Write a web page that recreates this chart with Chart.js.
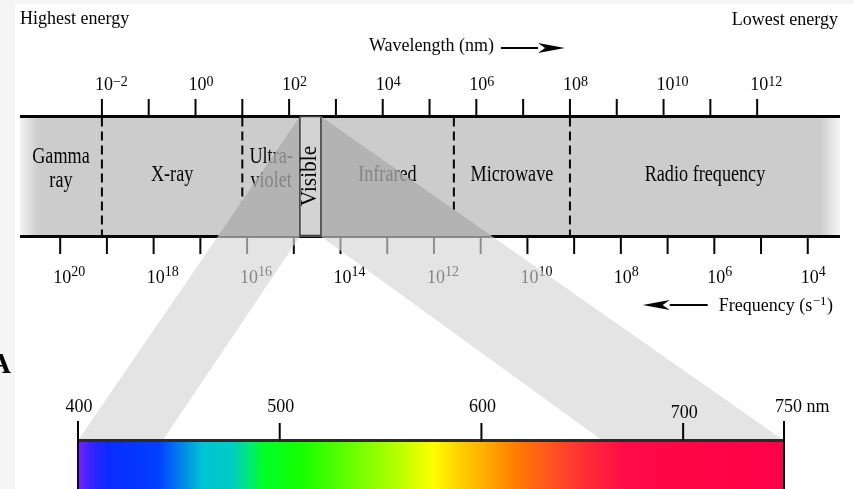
<!DOCTYPE html>
<html>
<head>
<meta charset="utf-8">
<title>Electromagnetic spectrum</title>
<script src="https://cdn.jsdelivr.net/npm/chart.js@4.4.1/dist/chart.umd.min.js"></script>
<style>
html, body { margin: 0; padding: 0; background: #ffffff; overflow: hidden; }
#holder { position: relative; width: 854px; height: 489px; }
</style>
</head>
<body>
<div id="holder"><canvas id="em-chart"></canvas></div>
<script>
// top scale: wavelength, log10 of nm
const wavelength_ticks = [-2, -1, 0, 1, 2, 3, 4, 5, 6, 7, 8, 9, 10, 11, 12];
const wavelength_labels = [-2, 0, 2, 4, 6, 8, 10, 12];
// bottom scale: frequency, log10 of s^-1 (runs right to left)
const frequency_ticks = [20, 19, 18, 17, 16, 15, 14, 13, 12, 11, 10, 9, 8, 7, 6, 5, 4];
const frequency_labels = [20, 18, 16, 14, 12, 10, 8, 6, 4];
// borders between the regions, on the wavelength scale
const region_edges = [-2, 1, 2.23, 2.68, 5.52, 8];
const region_names = [["Gamma", "ray"], ["X-ray"], ["Ultra-", "violet"], ["Visible"], ["Infrared"], ["Microwave"], ["Radio frequency"]];
// the visible band blown up, nm
const visible_ticks = [400, 500, 600, 700, 750];
const visible_labels = ["400", "500", "600", "700", "750 nm"];
const beam_inner = [442, 660];

// colour of the light at a given wavelength (nm)
const spectrum_colors = [
    [400, "#7a22ff"], [406, "#3a22ff"], [415, "#0a2cff"], [440, "#0040ff"],
    [452, "#0088e8"], [462, "#00c4d4"], [476, "#00ccc4"], [485, "#00e878"],
    [492, "#00ff28"], [510, "#14ff00"], [530, "#55ff00"], [555, "#aaff00"],
    [576, "#ffff00"], [588, "#ffd400"], [604, "#ffa600"], [617, "#ff7d00"],
    [632, "#ff5a1a"], [652, "#ff2c36"], [672, "#ff0a46"], [750, "#ff0048"]
];

// scale ranges
const w_min = -3.75, w_max = 13.77;
const f_min = 3.31, f_max = 20.86;
const s_min = 371.25, s_max = 777.76;

// vertical layout (rows of the y scale)
const rows = {
    top_tick: 99, top_axis: 116.5, band_bottom: 236.5, low_tick: 254,
    spec_mark: 423, spec_edge: 421, spec_top: 440.5, spec_bottom: 489
};

const INK = "#050505";
const SHADE = "#858585";
const SERIF = '"Liberation Serif", "DejaVu Serif", serif';
const gap = {x: null, y: null};

function spec_to_w(nm)
{
    return w_min + (nm - s_min) / (s_max - s_min) * (w_max - w_min);
}

// x on the line from (x_top, top_axis) to (x_low, spec_top) at height y
function edge_at(x_top, x_low, y)
{
    return x_top + (x_low - x_top) * (y - rows.top_axis) / (rows.spec_top - rows.top_axis);
}

function segs(values, y0, y1)
{
    let out = [];
    values.forEach(v => out.push({x: v, y: y0}, {x: v, y: y1}, gap));
    return out;
}

const vis_lo = region_edges[2];
const vis_hi = region_edges[3];
const fan_lo = spec_to_w(visible_ticks[0]);
const fan_hi = spec_to_w(visible_ticks[visible_ticks.length - 1]);
const mid_lo = edge_at(vis_lo, fan_lo, rows.band_bottom);
const mid_hi = edge_at(vis_hi, fan_hi, rows.band_bottom);

const beam_core = [
    {x: vis_lo, y: rows.top_axis}, {x: vis_hi, y: rows.top_axis},
    {x: mid_hi, y: rows.band_bottom}, {x: mid_lo, y: rows.band_bottom}
];
const beam_fan = [
    {x: mid_lo, y: rows.band_bottom}, {x: vis_lo, y: rows.band_bottom},
    {x: spec_to_w(beam_inner[0]), y: rows.spec_top}, {x: fan_lo, y: rows.spec_top},
    gap,
    {x: vis_hi, y: rows.band_bottom}, {x: mid_hi, y: rows.band_bottom},
    {x: fan_hi, y: rows.spec_top}, {x: spec_to_w(beam_inner[1]), y: rows.spec_top}
];

function band_fill(c)
{
    const chart = c.chart;
    const xw = chart.scales.xw;
    if (!xw) return "#cccccc";
    const a = xw.getPixelForValue(w_min), b = xw.getPixelForValue(w_max);
    if (!isFinite(a) || !isFinite(b) || a == b) return "#cccccc";
    const g = chart.ctx.createLinearGradient(a, 0, b, 0);
    g.addColorStop(0, "#f3f3f3");
    g.addColorStop(0.022, "#cccccc");
    g.addColorStop(0.976, "#cccccc");
    g.addColorStop(1, "#f6f6f6");
    return g;
}

function spectrum_fill(c)
{
    const chart = c.chart;
    const xs = chart.scales.xs;
    if (!xs) return "#00ff00";
    const lo = visible_ticks[0], hi = visible_ticks[visible_ticks.length - 1];
    const a = xs.getPixelForValue(lo), b = xs.getPixelForValue(hi);
    if (!isFinite(a) || !isFinite(b) || a == b) return "#00ff00";
    const g = chart.ctx.createLinearGradient(a, 0, b, 0);
    spectrum_colors.forEach(s => g.addColorStop((s[0] - lo) / (hi - lo), s[1]));
    return g;
}

let layers = [
    {label: "band", xAxisID: "xw", fill: "shape", borderWidth: 0, backgroundColor: band_fill,
        data: [{x: w_min, y: rows.top_axis}, {x: w_max, y: rows.top_axis}, {x: w_max, y: rows.band_bottom}, {x: w_min, y: rows.band_bottom}]},
    {label: "borders", xAxisID: "xw", borderColor: INK, borderWidth: 2, borderDash: [9, 5],
        data: segs(region_edges.filter((e, i) => i != 2 && i != 3), rows.top_axis + 1, rows.band_bottom - 1)},
    {label: "axes", xAxisID: "xw", borderColor: INK, borderWidth: 3,
        data: [{x: w_min, y: rows.top_axis}, {x: w_max, y: rows.top_axis}, gap, {x: w_min, y: rows.band_bottom}, {x: w_max, y: rows.band_bottom}]},
    {label: "wavelength ticks", xAxisID: "xw", borderColor: INK, borderWidth: 2,
        data: segs(wavelength_ticks, rows.top_tick, rows.top_axis)},
    {label: "frequency ticks", xAxisID: "xf", borderColor: INK, borderWidth: 2,
        data: segs(frequency_ticks, rows.band_bottom, rows.low_tick)},
    {label: "beam core", xAxisID: "xw", fill: "shape", borderWidth: 0, backgroundColor: "#b3b3b3", data: beam_core},
    {label: "beam fan", xAxisID: "xw", fill: "shape", borderWidth: 0, backgroundColor: "rgba(214,214,214,0.66)", data: beam_fan},
    {label: "visible slit", xAxisID: "xw", fill: "shape", borderWidth: 1.5, borderColor: "#3a3a3a", backgroundColor: "#d3d3d3",
        data: [{x: vis_lo, y: rows.top_axis}, {x: vis_hi, y: rows.top_axis}, {x: vis_hi, y: rows.band_bottom - 1}, {x: vis_lo, y: rows.band_bottom - 1}, {x: vis_lo, y: rows.top_axis}]},
    {label: "spectrum", xAxisID: "xs", fill: "shape", borderWidth: 0, backgroundColor: spectrum_fill,
        data: [{x: visible_ticks[0], y: rows.spec_top}, {x: visible_ticks[4], y: rows.spec_top}, {x: visible_ticks[4], y: rows.spec_bottom}, {x: visible_ticks[0], y: rows.spec_bottom}]},
    {label: "spectrum top", xAxisID: "xs", borderColor: "#2a2a2a", borderWidth: 3,
        data: [{x: visible_ticks[0], y: rows.spec_top}, {x: visible_ticks[4], y: rows.spec_top}]},
    {label: "spectrum ticks", xAxisID: "xs", borderColor: INK, borderWidth: 2,
        data: segs(visible_ticks.slice(1, 4), rows.spec_mark, rows.spec_top)
            .concat(segs([visible_ticks[0], visible_ticks[4]], rows.spec_edge, rows.spec_bottom))}
];
// first in the list is at the back
layers.forEach((d, i) => { d.order = layers.length - i; d.pointRadius = 0; d.spanGaps = false; });

function put(ctx, str, x, y, size, opt)
{
    opt = opt || {};
    ctx.save();
    ctx.translate(x, y);
    if (opt.rotate) ctx.rotate(opt.rotate);
    ctx.scale(opt.sx || 1, 1);
    ctx.font = (opt.bold ? "bold " : "") + size + "px " + SERIF;
    ctx.textAlign = opt.align || "left";
    ctx.textBaseline = "alphabetic";
    ctx.fillText(str, 0, 0);
    ctx.restore();
}

function power(ctx, exp, cx, y, raise)
{
    ctx.font = "18px " + SERIF;
    const w = ctx.measureText("10").width;
    put(ctx, "10", cx - w / 2, y, 18);
    put(ctx, exp < 0 ? "\u2212" + (-exp) : String(exp), cx + w / 2, y - raise, 14);
}

function arrow(ctx, from, to, y)
{
    const dir = Math.sign(to - from);
    const head = 27;
    ctx.save();
    ctx.strokeStyle = INK;
    ctx.fillStyle = INK;
    ctx.lineWidth = 2;
    ctx.beginPath();
    ctx.moveTo(from, y);
    ctx.lineTo(to - dir * head, y);
    ctx.stroke();
    ctx.beginPath();
    ctx.moveTo(to, y);
    ctx.lineTo(to - dir * head, y - 5);
    ctx.lineTo(to - dir * (head - 7), y);
    ctx.lineTo(to - dir * head, y + 5);
    ctx.closePath();
    ctx.fill();
    ctx.restore();
}

function beam_path(chart)
{
    const xw = chart.scales.xw, y = chart.scales.y;
    const p = new Path2D();
    [beam_core, beam_fan].forEach(list => {
        let open = false;
        list.forEach(pt => {
            if (pt.x === null) {
                if (open) p.closePath();
                open = false;
                return;
            }
            const px = xw.getPixelForValue(pt.x), py = y.getPixelForValue(pt.y);
            if (!open) { p.moveTo(px, py); open = true; }
            else p.lineTo(px, py);
        });
        if (open) p.closePath();
    });
    return p;
}

const words = {
    id: "words",
    beforeDraw(chart)
    {
        const ctx = chart.ctx;
        ctx.save();
        ctx.fillStyle = "#ffffff";
        ctx.fillRect(0, 0, chart.width, chart.height);
        ctx.fillStyle = "#f5f5f5";
        ctx.fillRect(0, 0, 15, chart.height);
        ctx.fillRect(0, 0, chart.width, 4);
        ctx.restore();
    },
    afterDatasetsDraw(chart)
    {
        const ctx = chart.ctx;
        const xw = chart.scales.xw, xf = chart.scales.xf, xs = chart.scales.xs;
        const beam = beam_path(chart);

        // text under the beam turns grey
        function split(draw)
        {
            ctx.save();
            ctx.clip(beam);
            ctx.fillStyle = SHADE;
            draw();
            ctx.restore();
            const outside = new Path2D();
            outside.rect(0, 0, chart.width, chart.height);
            outside.addPath(beam);
            ctx.save();
            ctx.clip(outside, "evenodd");
            ctx.fillStyle = INK;
            draw();
            ctx.restore();
        }

        ctx.save();
        ctx.fillStyle = INK;
        put(ctx, "Highest energy", 20, 24, 18);
        put(ctx, "Lowest energy", 838, 25, 18, {align: "right"});

        ctx.font = "18px " + SERIF;
        const wl = ctx.measureText("Wavelength (nm)").width;
        put(ctx, "Wavelength (nm)", 369, 51, 18);
        arrow(ctx, 369 + wl + 7, 369 + wl + 71, 48);

        ctx.font = "18px " + SERIF;
        const wa = ctx.measureText("Frequency (s").width;
        const wc = ctx.measureText(")").width;
        ctx.font = "13px " + SERIF;
        const wb = ctx.measureText("\u22121").width;
        const left = 833 - wa - wb - wc - 1;
        put(ctx, "Frequency (s", left, 311, 18);
        put(ctx, "\u22121", left + wa + 0.5, 305, 13);
        put(ctx, ")", left + wa + wb + 1, 311, 18);
        arrow(ctx, left - 11, left - 76, 305);

        wavelength_labels.forEach(v => power(ctx, v, xw.getPixelForValue(v) + 2, 90, 4));

        split(() => frequency_labels.forEach(v => power(ctx, v, xf.getPixelForValue(v) + 2, 283, 7)));

        const spans = [w_min].concat(region_edges, [w_max]);
        split(() => {
            region_names.forEach((lines, i) => {
                if (lines[0] == "Visible") return;
                const cx = xw.getPixelForValue((spans[i] + spans[i + 1]) / 2);
                const base = lines.length > 1 ? [163, 187] : [181];
                lines.forEach((t, k) => put(ctx, t, cx, base[k], 23, {align: "center", sx: 0.79}));
            });
        });
        const vi = region_names.findIndex(l => l[0] == "Visible");
        const vx = xw.getPixelForValue((spans[vi] + spans[vi + 1]) / 2);
        ctx.fillStyle = INK;
        put(ctx, "Visible", vx + 6, 176, 23, {rotate: -Math.PI / 2, align: "center", sx: 0.93});

        visible_ticks.forEach((v, i) => {
            const px = xs.getPixelForValue(v);
            if (i == visible_ticks.length - 1)
                put(ctx, visible_labels[i], px - 9, 412, 18);
            else
                put(ctx, visible_labels[i], px + 1, v == 700 ? 418 : 412, 18, {align: "center"});
        });

        put(ctx, "A", -10, 373, 29, {bold: true});
        ctx.restore();
    }
};

const config = {
    type: "line",
    data: {datasets: layers},
    options: {
        responsive: true,
        maintainAspectRatio: false,
        animation: false,
        events: [],
        layout: {padding: {left: 20, right: 14, top: 0, bottom: 0}},
        elements: {
            point: {radius: 0},
            line: {tension: 0, borderCapStyle: "butt", borderJoinStyle: "miter"}
        },
        plugins: {
            legend: {display: false},
            tooltip: {enabled: false}
        },
        scales: {
            xw: {type: "linear", axis: "x", display: false, min: w_min, max: w_max},
            xf: {type: "linear", axis: "x", display: false, min: f_min, max: f_max, reverse: true},
            xs: {type: "linear", axis: "x", display: false, min: s_min, max: s_max},
            y: {type: "linear", display: false, min: 0, max: 489, reverse: true}
        }
    },
    plugins: [words]
};

const em_chart = new Chart(document.getElementById("em-chart"), config);
</script>
</body>
</html>
